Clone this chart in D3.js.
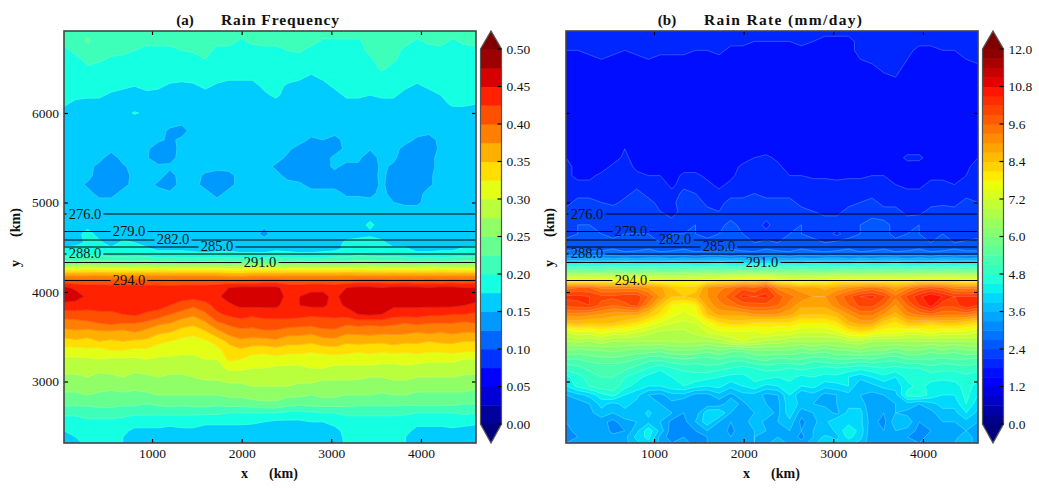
<!DOCTYPE html>
<html><head><meta charset="utf-8">
<style>html,body{margin:0;padding:0;background:#fff}svg{display:block}text{font-family:"Liberation Serif",serif;fill:#111}</style>
<script src="https://cdnjs.cloudflare.com/ajax/libs/d3/7.8.5/d3.min.js"></script>
</head><body><svg id="c" width="1039" height="489"></svg>
<script>
// grid rows (km)
const yRowsKm=[6916,6800,6700,6600,6500,6400,6300,6200,6100,6000,5900,5800,5700,5600,5500,5400,5300,5200,5100,5000,4900,4750,4650,4550,4480,4420,4370,4320,4280,4240,4200,4160,4120,4050,3950,3850,3750,3650,3550,3450,3350,3250,3150,3050,2950,2850,2750,2650,2550,2450,2380,2313];
const xFirstKm=18, xLastKm=4614;
// rain frequency, in units of 0.005
const rainFreq=[
[43,43,44,44,43,43,43,44,43,43,43,43,43,43,43,43,43,43,43,43,43,43,43,43,43,43,43,43,43,43,43,43,43,43,43,43],
[42,43,45.5,43,42,42,43,42,42,42,42,43,42,42,42,39,41,42,42,42,42,42,39,39,39,39,42,43,43,42,39,41,42,39,41,42],
[38,42,43,43,42,42,40,38,38,38,40,41,43,38,38,37,38,38,38,40,41,38,38,37,37,37,42,44,43,38,37,38,38,37,38,38],
[37,38,42,41,39,38,37,37,37,37,37,37,40,37,37,37,37,37,37,37,37,37,37,37,37,37,39,43,41,37,37,37,37,37,37,37],
[37,37,39,38,37,37,37,37,37,37,37,37,38,37,37,37,37,37,37,37,37,37,37,37,37,37,37,41,38,37,37,37,37,37,37,37],
[37,37,37,37,37,37,37,37,37,37,37,37,37,37,36,36,36,37,37,37,36,34,36,37,37,37,37,38,37,37,37,37,37,37,37,37],
[37,37,37,37,37,36,35,36,36,34,33,34,36,34,33,33,33,36,37,34,33,32,33,36,37,37,37,37,37,36,34,36,37,37,37,37],
[37,37,36,36,34,33,33,34,33,33,32,33,33,33,32,32,33,34,36,33,32,32,32,33,36,36,35,36,36,33,33,33,35,37,37,37],
[36,33,33,33,32,32,32,32,32,32,32,32,32,32,32,32,32,32,33,32,32,32,32,32,33,33,33,33,33,32,32,32,33,36,36,35],
[32,32,32,32,32,33,35.5,34,32,32,32,32,32,32,32,32,32,32,32,32,32,32,32,32,32,32,32,32,32,32,32,32,32,32,32,32],
[32,32,32,32,32,32,32,32,32,32,31,32,32,32,32,32,32,32,32,32,32,32,32,32,32,32,32,32,32,32,32,32,32,32,32,32],
[32,32,32,32,32,32,32,32,32,29,28,32,32,32,32,32,32,32,32,32,31,32,32,32,32,32,32,32,32,32,32,32,32,32,32,32],
[32,32,32,32,32,32,32,32,31,29,31,32,32,32,32,32,32,32,32,32,32,29,30,28,32,32,32,32,32,32,29,27,32,32,32,32],
[32,32,32,32,32,32,32,31,27,27,32,32,32,32,32,32,32,32,32,31,28,27,28,28,31,32,30.5,31,32,28,27,27,31,32,32,32],
[32,32,32,32,27,32,31,30.5,27,28,32,32,32,32,32,32,32,32,32,29,27,27,28,31,32,31,27,32,31,27,27,28,32,32,32,32],
[32,32,32,28,27,29,32,32,31,31,32,32,32,32,32,32,32,32,29,27,27,27,28,31,28,29,27,31,29,27,27,28,32,32,32,32],
[32,32,32,27,27,27,32,32,32,28,32,32,29,27,28,32,32,32,32,28,27,27,27,28,27,28,28,31,28,27,27,29,32,32,32,32],
[32,32,29,27,27,28,32,32,29,27,32,32,28,27,28,32,32,32,32,32,31,28,28,28,28,27,27,31,27,27,28,29,32,32,32,32],
[32,32,32,28,28,32,32,32,32,31,32,32,32,28,32,32,32,32,32,32,32,32,32,32,29,29,28,32,27,27,28,32,32,32,32,32],
[32,32,32,32,32,32,32,32,32,32,32,32,32,32,32,32,32,32,32,32,32,32,32,32,32,32,32,32,30,29,29,32,32,32,32,32],
[32,32,32,32,32,32,32,32,32,32,32,32,32,32,32,32,32,32,32,32,32,32,32,32,32,32,32,32,32,32,32,32,32,32,32,32],
[33,33,33,33,33,33,33,33,33,33,33,33,33,33,33,33,33,31,33,33,33,33,33,33,33,33,36,33,33,33,33,33,33,33,33,33],
[33,33,37,33,33,33,33,33,33,33,33,33,33,33,33,33,33,28,33,33,33,33,33,33,33,33,34,33,33,33,33,33,33,33,33,33],
[33,33,36,36,33,36,35,33,33,33,33,33,33,33,33,33,33,33,33,33,33,33,33,33,36,37,37,36,33,33,33,33,33,33,33,33],
[36,37,38,38,36,37,37,36,34,34,34,33,33,34,34,33,33,33,34,33,33,33,34,34,36,37,37,36,36,36,33,33,34,34,36,36],
[38,38,39,39,38,38,39,38,37,37,37,37,36,36,37,36,36,36,37,37,36,36,36,37,38,39,38,38,38,37,37,37,37,37,38,38],
[42,42,43,43,42,42,42,42,41,42,41,41,41,42,41,41,41,41,42,41,41,41,42,42,42,43,43,42,42,42,41,42,41,42,42,42],
[48,48,49,48,49,48,48,49,48,48,48,47,48,48,48,48,49,48,48,48,49,48,48,48,48,49,48,48,49,48,48,48,48,48,49,48],
[57,57,58,57,57,57,57,58,57,57,57,57,57,57,56,57,57,57,58,57,57,57,57,57,57,57,58,57,57,57,57,58,57,57,57,57],
[65,65,66,65,65,65,65,65,66,65,65,65,65,65,64,64,65,65,65,65,65,65,65,65,65,66,65,65,65,65,65,65,66,65,65,65],
[72,72,72,73,72,72,72,72,72,72,72,72,72,72,71,71,72,72,72,72,72,72,72,72,73,72,72,72,72,72,72,72,72,72,72,72],
[78,78,78,78,78,78,78,78,78,78,78,78,78,78,77,77,78,78,78,78,78,78,78,78,78,78,78,78,78,78,78,78,78,78,78,78],
[83,82,82,82,82,82,82,82,82,81,82,82,82,82,82,82,82,83,83,82,82,82,82,82,82,83,83,83,82,83,82,83,82,83,82,83],
[91,89,88,88,87,87,87,87,87,87,87,87,87,88,90,91,91,91,91,88,88,89,89,88,90,91,91,90,91,91,91,90,91,91,90,90],
[92,92,89,88,88,88,88,89,88,88,87,87,88,89,92,92,92,92,92,89,90,91,91,89,92,92,92,92,92,92,92,92,92,92,92,92],
[89,88,87,87,87,87,88,88,87,85,83,81,83,87,89,91,91,91,91,88,90,91,91,88,91,91,91,91,91,91,91,91,91,91,90,89],
[82,83,83,84,84,85,86,84,83,80,78,76,79,84,86,87,86,87,87,87,87,86,86,87,87,90,91,90,87,87,87,86,86,85,85,84],
[78,78,79,80,81,80,80,79,76,75,72,71,74,79,81,83,82,83,83,83,82,82,83,82,81,82,81,82,81,80,81,80,80,80,79,80],
[73,74,73,74,74,73,75,73,71,70,68,67,69,73,77,78,78,79,79,77,77,76,78,79,76,76,77,76,76,76,75,76,75,76,75,75],
[68,69,68,70,69,70,69,69,66,65,63,62,64,67,71,74,73,73,74,72,72,71,73,73,71,72,71,71,72,71,71,70,71,71,70,70],
[63,63,64,63,65,65,64,64,63,62,61,61,62,63,68,69,67,67,68,67,67,66,67,68,67,66,67,66,67,66,67,66,66,67,66,66],
[59,59,59,60,59,59,59,60,59,59,59,59,60,60,66,65,63,62,63,62,62,62,62,62,62,62,62,61,61,62,62,61,61,61,60,60],
[57,57,57,56,57,57,56,57,57,57,57,57,57,58,61,61,60,60,59,59,59,60,60,59,59,59,59,59,59,59,58,58,58,58,58,57],
[54,54,55,54,54,55,54,54,55,54,54,55,56,56,57,57,57,57,58,57,57,57,56,56,56,56,55,55,56,56,55,55,55,55,54,54],
[52,52,52,52,51,52,52,52,52,52,52,53,53,53,54,54,55,55,55,55,54,54,53,53,53,52,52,53,53,53,52,52,52,52,52,51],
[49,49,50,49,49,49,48,49,50,50,50,50,50,50,51,51,52,52,52,51,51,50,51,51,50,50,50,49,50,50,49,49,49,49,49,48],
[46,46,46,47,47,46,46,45,46,47,46,47,47,46,47,47,48,49,49,47,46,47,47,47,47,46,46,46,46,46,46,46,46,46,45,45],
[41,41,42,42,42,42,41,41,41,41,41,41,41,41,40,40,40,40,40,39,39,39,40,40,41,41,41,41,41,41,40,40,40,40,41,40],
[38,38,39,39,39,38,37,37,37,37,37,37,36,36,36,36,36,35,34,34,34,35,35,36,38,38,38,38,38,37,36,36,36,37,36,36],
[35,36,37,37,37,36,34,34,34,33,34,34,33,33,33,33,32,32,32,32,32,32,33,34,36,37,37,37,36,36,34,34,34,34,34,33],
[33,35,36,36,36,35,33,33,32,32,33,32,32,32,32,32,32,31,31,31,31,32,32,33,36,37,37,36,36,35,33,33,33,33,33,32],
[32,34,36,36,36,35,32,32,32,31,32,32,31,31,32,31,31,31,31,31,31,31,32,32,36,37,37,37,36,35,32,32,32,32,32,32]
];
// rain rate, in units of 0.1 mm/day
const rainRate=[
[20,20,20,20,20,20,20,20,20,20,20,20,20,20,19,19,19,20,20,20,20,20,19,19,19,20,20,20,20,20,20,20,20,20,20,20],
[19,19,19,19,19,19,19,19,19,19,19,19,19,19,19,19,18,18,18,18,19,18,17,17,17,19,20,20,20,19,19,19,19,19,19,19],
[18,18,19,19,19,18,19,19,19,19,19,18,18,19,17,17,17,17,17,17,17,17,17,17,17,19,19,19,19,19,17,17,18,18,19,19],
[17,17,17,18,17,17,17,18,17,17,17,16,16,17,16,16,16,16,16,16,16,16,16,16,16,18,19,19,19,18,17,16,17,17,18,19],
[16,16,16,16,16,16,16,16,16,16,16,16,16,16,16,16,16,16,16,16,16,16,16,16,16,17,17,19,19,17,16,16,16,16,17,17],
[16,16,16,16,16,16,16,16,16,16,16,16,16,16,16,16,16,16,16,16,16,16,16,16,16,16,16,17,18,16,16,16,16,16,16,16],
[16,16,16,16,16,16,16,16,16,16,16,16,16,16,16,16,16,16,16,16,16,16,16,16,16,16,16,16,16,16,16,16,16,16,16,16],
[16,16,16,16,16,16,16,16,16,16,16,16,16,16,16,16,16,16,16,16,16,16,16,16,16,16,16,16,16,16,16,16,16,16,16,16],
[16,16,16,16,16,16,16,16,16,16,16,16,16,16,16,16,16,16,16,16,16,16,16,16,16,16,16,16,16,16,16,16,16,16,16,16],
[16,16,16,16,16,16,16,16,16,16,16,16,16,16,16,16,16,16,16,16,16,16,16,16,16,16,16,16,16,16,16,16,16,16,16,16],
[16,16,16,16,16,16,16,16,16,16,16,16,16,16,16,16,16,16,16,16,16,16,16,16,16,16,16,16,16,16,16,16,16,16,16,16],
[16,16,16,16,16,16,16,16,16,16,16,16,16,16,16,16,16,16,16,16,16,16,16,16,16,16,16,16,16,16,16,16,16,16,16,16],
[16,16,16,16,16,17,16,16,16,16,16,16,16,16,16,16,16,16,16,16,16,16,16,16,16,16,16,16,16,16,16,16,16,16,16,16],
[17,16,16,16,16,18,16,16,16,16,16,16,16,16,16,16,16,16,16,16,16,16,16,16,16,16,16,16,16,16,16,16,16,16,16,17],
[18,16,16,16,16,19,16,16,16,16,16,16,16,16,16,16,18,19,17,16,16,16,16,16,16,16,16,16,16,19,19,16,16,16,16,18],
[19,17,16,16,19,20,17,16,16,16,16,16,17,16,16,19,20,20,19,16,16,16,16,16,16,16,16,16,16,16,16,16,16,16,17,20],
[19,17,17,19,20,20,19,18,18,16,19,19,17,16,17,20,20,20,20,18,18,17,17,17,17,17,18,18,16,16,16,17,17,16,18,20],
[20,19,19,20,20,20,20,20,20,17,20,20,19,17,19,20,20,20,20,20,20,20,20,19,20,20,20,20,18,17,17,19,19,18,20,20],
[20,20,20,20,20,20,22,20,20,19,22,21,20,19,20,20,21,20,20,20,20,20,20,20,20,20,20,20,19,19,19,20,20,20,20,20],
[20,22,22,21,20,22,23,22,20,20,23,23,20,20,22,22,23,22,22,22,20,20,20,20,20,21,22,20,20,20,20,20,20,20,22,21],
[22,23,23,22,23,22,23,23,21,20,22,23,22,21,22,23,23,23,22,22,22,21,20,20,22,23,23,22,22,20,20,22,23,22,23,23],
[23,24,24,23,23,23,23,23,22,22,23,24,23,23,25,23,23,20,23,23,24,23,23,23,23,24,25,25,23,23,24,23,23,23,24,23],
[23,24,24,24,23,24,24,24,23,24,24,24,23,24,24,24,23,22,23,24,24,23,23,20,23,24,25,25,23,24,24,23,24,23,21,23],
[25,25,24,25,25,24,25,25,24,25,25,24,25,24,24,25,24,25,24,25,24,25,24,25,25,24,25,24,25,24,25,24,25,24,25,25],
[26,27,26,26,27,26,26,27,26,26,27,26,26,26,27,26,26,27,26,26,27,26,26,26,27,26,26,27,26,26,27,26,26,27,26,26],
[29,29,28,29,29,28,29,29,28,29,29,28,29,29,28,29,28,29,29,28,29,29,28,29,29,28,29,29,28,29,29,28,29,28,29,29],
[34,33,34,34,33,34,33,34,34,33,34,33,34,34,33,34,33,34,34,33,34,33,34,34,33,34,33,34,34,33,34,33,34,34,33,34],
[41,41,42,41,41,42,41,41,41,42,41,41,41,42,41,41,41,42,41,41,41,42,41,41,41,42,41,41,42,41,41,41,42,41,41,41],
[49,50,49,49,50,49,49,50,49,49,50,49,49,50,49,49,50,49,49,50,49,49,50,49,49,50,49,49,50,49,49,50,49,49,50,49],
[56,57,56,56,57,56,56,57,56,56,56,56,57,56,56,57,56,57,56,56,57,56,56,56,57,56,56,57,56,56,57,56,56,57,56,56],
[64,64,65,64,64,65,64,64,64,63,64,64,65,64,65,65,65,65,64,64,64,64,64,65,64,64,65,64,64,64,65,64,65,64,64,64],
[72,72,72,73,72,72,72,72,71,71,71,72,72,72,73,74,74,74,72,71,71,71,72,72,72,72,72,72,72,72,72,73,73,73,72,72],
[78,78,78,78,78,80,78,78,76,76,76,76,78,80,80,82,82,84,78,76,74,76,76,78,78,78,78,78,78,78,80,80,80,80,78,78],
[94,96,96,92,92,92,92,90,88,84,82,82,90,92,94,98,96,100,92,90,88,88,86,88,90,92,94,92,88,92,96,98,96,92,92,92],
[103,103,102,100,100,101,101,96,90,84,84,86,90,94,98,103,102,103,98,94,92,90,90,94,98,102,103,100,94,100,104,108,105,102,102,102],
[100,101,102,98,96,98,100,92,84,78,76,78,88,92,94,97,98,98,96,92,88,88,88,92,96,100,100,96,90,96,102,106,100,100,105,102],
[92,92,91,90,88,88,88,84,80,76,74,76,84,88,88,88,90,90,90,88,84,84,84,86,90,94,94,90,86,92,94,96,94,94,94,92],
[84,85,84,84,84,82,80,77,74,72,71,72,76,80,82,82,80,80,80,80,78,78,78,80,86,88,88,82,80,84,84,82,84,84,82,80],
[72,74,74,76,74,74,72,70,68,68,68,70,72,74,74,74,74,76,74,74,72,72,72,74,78,80,78,76,76,74,74,76,74,74,74,72],
[66,67,66,68,66,66,66,66,66,66,67,66,66,67,70,72,70,68,68,66,66,66,66,66,68,68,66,66,66,66,66,66,66,66,66,67],
[60,59,60,60,61,60,59,59,58,60,60,60,58,60,58,58,60,60,60,60,58,60,58,60,60,62,60,60,58,60,60,58,60,58,60,60],
[54,54,55,56,56,55,54,52,52,53,54,53,53,54,52,52,54,55,53,54,54,52,53,54,54,53,54,52,52,54,54,54,53,54,54,53],
[49,50,52,52,52,52,50,48,46,48,49,49,50,49,48,47,48,49,49,48,49,48,47,48,47,46,47,48,47,48,48,50,49,49,50,49],
[44,47,49,51,51,48,46,44,42,45,46,47,46,45,44,44,46,46,45,46,44,45,44,44,42,40,42,44,42,46,46,46,46,46,47,46],
[42,46,48,50,50,46,44,42,42,44,45,43,42,43,40,42,44,41,42,44,42,43,40,41,42,36,38,40,40,44,46,44,43,44,46,44],
[36,38,40,44,46,42,40,36,35,38,38,35,35,38,35,38,38,35,36,42,36,38,35,36,38,36,35,36,38,46,47,44,42,42,46,42],
[34,34,36,40,38,40,38,36,36,35,33,33,34,34,38,35,38,36,35,41,38,36,35,36,38,38,33,33,36,38,36,38,40,40,45,40],
[34,33,35,38,36,38,36,40,36,36,33,34,41,42,36,34,36,38,35,41,34,36,38,35,40,40,33,33,36,35,33,35,38,38,42,38],
[33,33,35,34,32,35,36,38,36,32,32,36,41,36,33,34,38,35,36,38,32,35,38,42,41,40,34,32,38,38,33,33,36,36,38,36],
[32,34,33,35,32,33,38,44,38,31,31,33,36,35,32,35,36,36,35,36,33,36,36,40,44,41,33,33,36,35,32,33,35,35,36,35],
[32,33,34,33,34,35,40,43,35,31,33,31,33,34,33,35,36,35,36,35,32,36,40,38,43,40,33,34,35,33,32,34,35,35,38,34],
[33,33,34,34,34,35,38,41,35,33,34,32,33,35,34,35,36,35,38,35,34,38,41,40,40,38,34,34,35,34,33,34,35,36,38,34]
];
const freqStep=5, freqLevelCount=20, rateStep=3, rateLevelCount=40;
const freqTicks=["0.00","0.05","0.10","0.15","0.20","0.25","0.30","0.35","0.40","0.45","0.50"];
const rateTicks=["0.0","1.2","2.4","3.6","4.8","6.0","7.2","8.4","9.6","10.8","12.0"];
const xTicks=[1000,2000,3000,4000], yTicks=[3000,4000,5000,6000];
// potential temperature contours: label, height (km), label position (km)
const tempLabels=["276.0","279.0","282.0","285.0","288.0","291.0","294.0"];
const tempY=[4871,4676,4581,4503,4425,4330,4128];
const tempLabelX=[252,743,1234,1725,252,2205,743];

function jet(t){
  const seg=(p)=>{for(let i=1;i<p.length;i++){if(t<=p[i][0]){const a=p[i-1],b=p[i];return a[1]+(b[1]-a[1])*(t-a[0])/(b[0]-a[0]);}}return p[p.length-1][1];};
  const r=seg([[0,0],[.35,0],[.66,1],[.89,1],[1,.5]]),g=seg([[0,0],[.125,0],[.375,1],[.64,1],[.91,0],[1,0]]),b=seg([[0,.5],[.11,1],[.34,1],[.65,0],[1,0]]);
  return d3.rgb(r*255,g*255,b*255).formatHex();
}
const svg=d3.select("#c");
const H=[31,443],T=d3.format(".0f");
function panel(id,left,grid,step,n,letter,title,titleX,titleW,letterX,ticksY,barLabels,edgeOp){
  const right=left+412;
  const x=d3.scaleLinear([xFirstKm,xLastKm],[left,right]);
  const y=d3.scaleLinear([6916,2313],H);
  const g=svg.append("g");
  const m=grid[0].length,nr=grid.length;
  const xi=d3.scaleLinear([0.5,m-0.5],[xFirstKm,xLastKm]);
  const yi=d3.scaleLinear(yRowsKm.map((_,i)=>i+0.5),yRowsKm);
  const proj=d3.geoTransform({point(a,b){this.stream.point(x(xi(a)),y(yi(b)));}});
  const path=d3.geoPath(proj);
  svg.append("defs").append("clipPath").attr("id","clip"+id).append("rect").attr("x",left).attr("y",H[0]).attr("width",412).attr("height",412);
  const plot=g.append("g").attr("clip-path",`url(#clip${id})`);
  const flat=grid.flat();
  const levels=d3.range(0,n).map(i=>i*step);
  const cs=d3.contours().size([m,nr]).thresholds(levels)(flat);
  plot.selectAll("path.f").data(cs).join("path").attr("class","f").attr("d",path)
    .attr("fill",(d,i)=>jet((i+.5)/n)).attr("stroke",(d,i)=>jet((i+.5)/n));
  plot.selectAll("path.e").data(cs).join("path").attr("class","e").attr("d",path).attr("fill","none")
    .attr("stroke","#fff").attr("stroke-opacity",edgeOp).attr("stroke-width",.7);
  // temperature contours with label gaps
  tempY.forEach((t,i)=>{
    const cx=x(tempLabelX[i]),yy=y(t),gap=18.5;
    [[left,cx-gap],[cx+gap,right]].forEach(s=>{
      plot.append("line").attr("x1",s[0]).attr("x2",s[1]).attr("y1",yy).attr("y2",yy).attr("stroke","#000").attr("stroke-width",1.1);
    });
    g.append("text").attr("x",cx).attr("y",yy+4.5).attr("text-anchor","middle").style("font-size","14.5px").text(tempLabels[i]);
  });
  // axes
  const ax=(a,tf)=>a.tickSize(-4).tickFormat(tf);
  const axes=[[d3.axisBottom(x).tickValues(xTicks).tickPadding(5.5),`translate(0,${H[1]})`,T],
    [d3.axisTop(x).tickValues(xTicks),`translate(0,${H[0]})`,""],
    [d3.axisLeft(y).tickValues(yTicks).tickPadding(5),`translate(${left},0)`,ticksY?T:""],
    [d3.axisRight(y).tickValues(yTicks),`translate(${right},0)`,""]];
  axes.forEach(([a,tr,tf])=>{
    const s=g.append("g").attr("transform",tr).call(ax(a,tf==""?()=>"":tf));
    s.select(".domain").remove();
    s.selectAll("line").attr("stroke","#000").attr("stroke-width",1.2);
    s.selectAll("text").style("font-size","13.5px").attr("font-family",null).attr("fill","#111");
  });
  g.append("rect").attr("x",left).attr("y",H[0]).attr("width",412).attr("height",412).attr("fill","none").attr("stroke","#444").attr("stroke-width",1.6);
  // titles
  g.append("text").attr("x",letterX).attr("y",25).attr("text-anchor","middle").style("font-size","15px").style("font-weight",700).text(`(${letter})`);
  g.append("text").attr("x",titleX).attr("y",25).attr("textLength",titleW).attr("lengthAdjust","spacing").style("font-size","15.5px").style("font-weight",700).text(title);
  g.append("text").attr("x",left+177).attr("y",478).style("font-size","14px").style("font-weight",700).text("x");
  g.append("text").attr("x",left+205).attr("y",478).attr("textLength",29).style("font-size","14px").style("font-weight",700).text("(km)");
  const yl=left-(id=="a"?45:13);
  g.append("text").attr("transform",`translate(${yl+1},267) rotate(-90)`).style("font-size","14px").style("font-weight",700).text("y");
  g.append("text").attr("transform",`translate(${yl+1},237) rotate(-90)`).attr("textLength",29).style("font-size","14px").style("font-weight",700).text("(km)");
  // colour bar
  const bx=left+416.5,bw=21,by=d3.scaleLinear([0,n],[424,49]);
  const cb=g.append("g");
  cb.selectAll("rect").data(levels).join("rect").attr("x",bx).attr("width",bw)
    .attr("y",(d,i)=>by(i+1)).attr("height",(d,i)=>by(i)-by(i+1)+.5).attr("fill",(d,i)=>jet((i+.5)/n));
  cb.append("path").attr("d",`M${bx},49L${bx+bw/2},31L${bx+bw},49Z`).attr("fill","#7f0000");
  cb.append("path").attr("d",`M${bx},424L${bx+bw/2},443L${bx+bw},424Z`).attr("fill","#00007f");
  cb.append("path").attr("d",`M${bx},49L${bx+bw/2},31L${bx+bw},49V424L${bx+bw/2},443L${bx},424Z`).attr("fill","none").attr("stroke","#555").attr("stroke-width",1.2);
  const tk=d3.scaleLinear([0,barLabels.length-1],[424,49]);
  barLabels.forEach((l,i)=>{
    cb.append("line").attr("x1",bx+bw-4).attr("x2",bx+bw).attr("y1",tk(i)).attr("y2",tk(i)).attr("stroke","#000").attr("stroke-width",1.2);
    cb.append("text").attr("x",bx+bw+5).attr("y",tk(i)+4.5).style("font-size","13.5px").text(l);
  });
}
panel("a",64,rainFreq,freqStep,freqLevelCount,"a","Rain Frequency",221,118,185,true,freqTicks,.18);
panel("b",566,rainRate,rateStep,rateLevelCount,"b","Rain Rate (mm/day)",704,158,667,false,rateTicks,.28);
</script></body></html>
